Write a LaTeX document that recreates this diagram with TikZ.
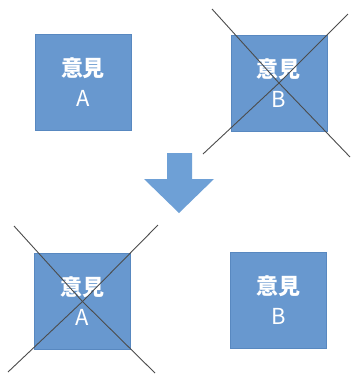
\documentclass[tikz,border=0pt]{standalone}
\usepackage{fontspec}
\setmainfont{Noto Sans CJK JP}
\begin{document}
\begin{tikzpicture}[x=1pt,y=-1pt,
  opbox/.style={draw=opedge,fill=opfill,line width=0.8pt,minimum width=96pt,minimum height=96pt,
    inner sep=0pt,text=white,font=\fontsize{22}{30}\selectfont,align=center},
  strike/.style={draw=black!70,line width=0.9pt}]
\definecolor{opfill}{RGB}{104,152,207}
\definecolor{opedge}{RGB}{88,136,192}
\definecolor{arrowfill}{RGB}{110,160,214}
\useasboundingbox (0,0) rectangle (351,376);
\fill[white] (0,0) rectangle (351,376);

% four opinion boxes
\node[opbox] (a1) at (83,82) {\textbf{意見}\\A};
\node[opbox] (b1) at (279,83) {\textbf{意見}\\B};
\node[opbox] (a2) at (82.5,301.5) {\textbf{意見}\\A};
\node[opbox] (b2) at (278.5,300) {\textbf{意見}\\B};

% downward block arrow
\fill[arrowfill] (167,153) -- (192,153) -- (192,179) -- (214,179) -- (179,213)
  -- (144,179) -- (167,179) -- cycle;

% crosses over rejected opinions
\coordinate (b1nw) at (212,9);   \coordinate (b1se) at (350,157);
\coordinate (b1ne) at (348,14);  \coordinate (b1sw) at (203,154);
\draw[strike] (b1nw) -- (b1.center) -- (b1se);
\draw[strike] (b1ne) -- (b1.center) -- (b1sw);

\coordinate (a2nw) at (14,226);  \coordinate (a2se) at (155,373);
\coordinate (a2ne) at (158,225); \coordinate (a2sw) at (8,372);
\draw[strike] (a2nw) -- (a2.center) -- (a2se);
\draw[strike] (a2ne) -- (a2.center) -- (a2sw);
\end{tikzpicture}
\end{document}
